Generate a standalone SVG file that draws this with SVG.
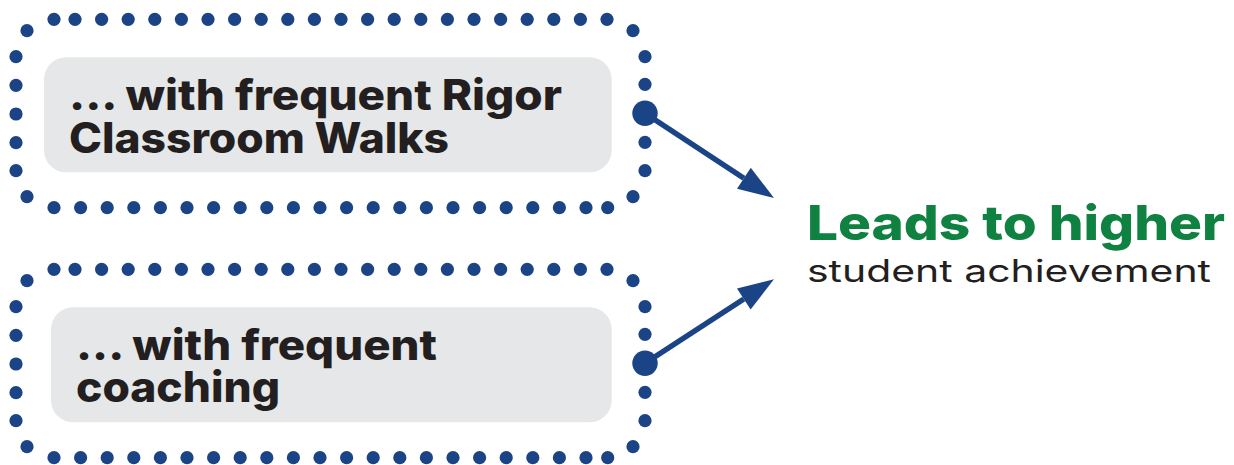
<svg xmlns="http://www.w3.org/2000/svg" width="1234" height="465" viewBox="0 0 1234 465">
  <style>
    .dot { fill: #1b4487; }
    .panel { fill: #e6e7e8; }
    .label { font-family: Inter, "Open Sans", "DejaVu Sans", sans-serif; font-weight: 800; font-size: 42px; fill: #231f20; }
    .head { font-family: Inter, "Open Sans", "DejaVu Sans", sans-serif; font-weight: 800; font-size: 48px; fill: #0f8140; }
    .sub { font-family: Inter, "Open Sans", "DejaVu Sans", sans-serif; font-weight: 400; font-size: 31px; fill: #231f20; }
    .link { stroke: #1b4487; stroke-width: 5.5; fill: none; }
  </style>
  <defs>
    <circle id="d" r="6.6" class="dot"/>
    <!-- dotted frame, drawn at origin and placed per node -->
    <g id="frame">
      <!-- top row -->
      <use href="#d" x="54" y="19.3"/>
      <use href="#d" x="75" y="19.3"/>
      <use href="#d" x="101.6" y="19.3"/>
      <use href="#d" x="128.2" y="19.3"/>
      <use href="#d" x="154.8" y="19.3"/>
      <use href="#d" x="181.4" y="19.3"/>
      <use href="#d" x="208" y="19.3"/>
      <use href="#d" x="234.6" y="19.3"/>
      <use href="#d" x="261.2" y="19.3"/>
      <use href="#d" x="287.8" y="19.3"/>
      <use href="#d" x="314.4" y="19.3"/>
      <use href="#d" x="341" y="19.3"/>
      <use href="#d" x="367.6" y="19.3"/>
      <use href="#d" x="394.2" y="19.3"/>
      <use href="#d" x="420.8" y="19.3"/>
      <use href="#d" x="447.4" y="19.3"/>
      <use href="#d" x="474" y="19.3"/>
      <use href="#d" x="500.6" y="19.3"/>
      <use href="#d" x="527.2" y="19.3"/>
      <use href="#d" x="553.8" y="19.3"/>
      <use href="#d" x="580.4" y="19.3"/>
      <use href="#d" x="607" y="19.3"/>
      <!-- corners -->
      <use href="#d" x="27" y="30.7"/>
      <use href="#d" x="633" y="30.7"/>
      <use href="#d" x="27" y="196.7"/>
      <use href="#d" x="633" y="196.7"/>
      <!-- left column -->
      <use href="#d" x="16" y="56.7"/>
      <use href="#d" x="16" y="85.3"/>
      <use href="#d" x="16" y="114"/>
      <use href="#d" x="16" y="142.7"/>
      <use href="#d" x="16" y="170.7"/>
      <!-- right column (port dot drawn separately) -->
      <use href="#d" x="645" y="56.7"/>
      <use href="#d" x="645" y="84.3"/>
      <use href="#d" x="645" y="142.3"/>
      <use href="#d" x="645" y="170.7"/>
      <!-- bottom row -->
      <use href="#d" x="54" y="207.7"/>
      <use href="#d" x="80.6" y="207.7"/>
      <use href="#d" x="107.2" y="207.7"/>
      <use href="#d" x="133.8" y="207.7"/>
      <use href="#d" x="160.4" y="207.7"/>
      <use href="#d" x="187" y="207.7"/>
      <use href="#d" x="213.6" y="207.7"/>
      <use href="#d" x="240.2" y="207.7"/>
      <use href="#d" x="266.8" y="207.7"/>
      <use href="#d" x="293.4" y="207.7"/>
      <use href="#d" x="320" y="207.7"/>
      <use href="#d" x="346.6" y="207.7"/>
      <use href="#d" x="373.2" y="207.7"/>
      <use href="#d" x="399.8" y="207.7"/>
      <use href="#d" x="426.4" y="207.7"/>
      <use href="#d" x="453" y="207.7"/>
      <use href="#d" x="479.6" y="207.7"/>
      <use href="#d" x="506.2" y="207.7"/>
      <use href="#d" x="532.8" y="207.7"/>
      <use href="#d" x="559.4" y="207.7"/>
      <use href="#d" x="586" y="207.7"/>
      <use href="#d" x="607.7" y="207.7"/>
    </g>
    <marker id="arrow" markerUnits="userSpaceOnUse" markerWidth="37" markerHeight="26" refX="0" refY="12.5" orient="auto" overflow="visible">
      <path d="M0,0 L36,12.5 L0,25 Z" fill="#1b4487"/>
    </marker>
  </defs>

  <!-- node: rigor walks -->
  <g id="node-walks">
    <use href="#frame"/>
    <rect class="panel" x="44" y="57.3" width="567.7" height="115" rx="22"/>
    <text class="label" x="69" y="110" textLength="493" lengthAdjust="spacingAndGlyphs">... with frequent Rigor</text>
    <text class="label" x="69" y="152.7" textLength="380" lengthAdjust="spacingAndGlyphs">Classroom Walks</text>
  </g>

  <!-- node: coaching -->
  <g id="node-coaching">
    <use href="#frame" y="250"/>
    <rect class="panel" x="51" y="307.3" width="560.7" height="115" rx="22"/>
    <text class="label" x="76" y="360" textLength="361" lengthAdjust="spacingAndGlyphs">... with frequent</text>
    <text class="label" x="76" y="401.7" textLength="204" lengthAdjust="spacingAndGlyphs">coaching</text>
  </g>

  <!-- node: outcome -->
  <g id="node-outcome">
    <text class="head" x="807" y="240" textLength="418" lengthAdjust="spacingAndGlyphs">Leads to higher</text>
    <text class="sub" x="807" y="281.7" textLength="404" lengthAdjust="spacingAndGlyphs">student achievement</text>
  </g>

  <!-- connectors -->
  <g id="connectors">
    <circle class="dot" cx="645" cy="113.3" r="12.7"/>
    <line class="link" x1="645" y1="113.3" x2="743.9" y2="178.2" marker-end="url(#arrow)"/>
    <circle class="dot" cx="645" cy="363.3" r="12.7"/>
    <line class="link" x1="645" y1="363.3" x2="743.8" y2="299" marker-end="url(#arrow)"/>
  </g>
</svg>
